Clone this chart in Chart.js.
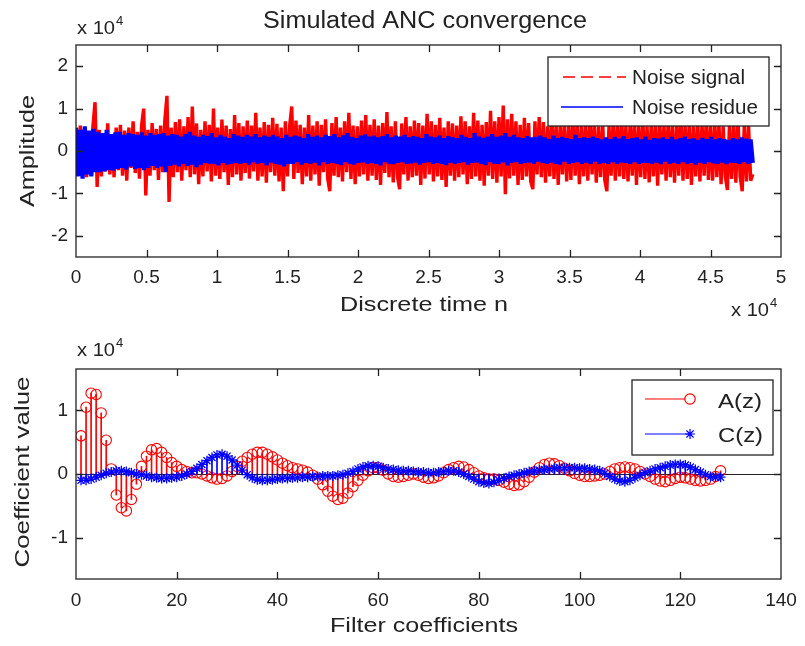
<!DOCTYPE html>
<html>
<head>
<meta charset="utf-8">
<title>Simulated ANC convergence</title>
<script src="https://cdn.jsdelivr.net/npm/chart.js@4.4.1/dist/chart.umd.min.js"></script>
<style>
  html, body { margin: 0; padding: 0; background: #fff; }
  canvas { display: block; }
</style>
</head>
<body>
<canvas id="chart-top" width="805" height="320"></canvas>
<canvas id="chart-bottom" width="805" height="326"></canvas>
<script>
// Data (amplitudes in units of 10^4, time in units of 10^4 samples)
const signalLength = 4.8;

const noiseSignal = [
  0.45, -0.55, 0.6, -0.4, 0.52, -0.62, 0.38, -0.5, 0.58, 1.15, -0.85, 0.5, -0.6, 0.42, -0.48, 0.65, -0.55, 0.35, -0.62, 0.55,
  -0.45, 0.62, -0.58, 0.48, -0.7, 0.55, -0.4, 0.7, -0.52, 0.45, -0.65, 0.6, 1.0, -1.05, 0.5, -0.58, 0.66, -0.45, 0.52, -0.68,
  0.6, -0.5, 0.72, 1.3, -1.2, 0.55, -0.62, 0.68, -0.5, 0.75, -0.7, 0.58, -0.45, 0.8, -0.62, 1.05, -0.55, 0.65, -0.78, 0.5,
  -0.6, 0.7, -0.48, 0.62, -0.72, 1.0, -0.58, 0.55, -0.66, 0.74, -0.5, 0.6, -0.8, 0.52, -0.62, 0.85, -0.55, 0.66, -0.7, 0.58,
  -0.52, 0.72, -0.65, 0.6, -0.48, 0.9, -0.7, 0.55, -0.6, 0.68, -0.75, 0.62, -0.5, 0.78, -0.58, 0.64, -0.72, 0.55, -0.95, 0.7,
  -0.6, 0.58, 1.05, -0.66, 0.72, -0.52, 0.62, -0.78, 0.55, -0.6, 0.85, -0.7, 0.6, -0.55, 0.7, -0.82, 0.62, -0.5, 0.75, -0.65,
  -0.95, 0.66, -0.58, 0.8, -0.62, 0.55, -0.72, 0.7, -0.5, 0.9, -0.66, 0.6, -0.78, 0.58, -0.6, 0.72, -0.55, 0.85, -0.7, 0.62,
  -0.58, 0.75, -0.68, 0.6, -0.8, 0.66, -0.52, 0.92, -0.62, 0.58, -0.74, 0.7, -0.6, -0.9, 0.65, -0.55, 0.8, -0.7, 0.58, -0.62,
  0.72, -0.58, 0.66, -0.8, 0.6, -0.65, 0.88, -0.55, 0.7, -0.72, 0.62, -0.6, 0.78, -0.68, 0.55, -0.85, 0.7, -0.58, 0.65, -0.7,
  0.6, -0.62, 0.82, -0.55, 0.7, -0.78, 0.58, -0.66, 0.9, -0.6, 0.72, -0.7, 0.62, -0.82, 0.68, -0.58, 0.95, -0.66, 0.7, -0.75,
  0.8, -0.6, 1.07, -1.02, 0.75, -0.65, 0.88, -0.58, 0.7, -0.8, 0.62, -0.68, 0.78, -0.6, 0.66, -0.72, -0.9, 0.7, -0.55, 0.8,
  -0.62, 0.68, -0.75, 0.58, -0.6, 0.85, -0.66, 0.62, -0.8, 0.7, -0.55, 0.66, -0.72, 0.6, -0.68, 0.9, -0.58, 0.64, -0.78, 0.7,
  -0.6, 0.62, -0.7, 0.8, -0.55, 0.66, -0.75, 0.58, -0.62, 0.72, -0.68, -0.95, 0.6, -0.58, 0.78, -0.7, 0.62, -0.6, 0.85, -0.66,
  0.6, -0.72, 0.68, -0.58, 0.75, -0.8, 0.6, -0.62, 0.82, -0.66, 0.58, -0.74, 0.7, -0.6, 0.65, -0.82, 0.72, -0.55, 0.62, -0.7,
  0.78, -0.62, 0.6, -0.75, 0.68, -0.58, 0.85, -0.7, 0.62, -0.66, 0.72, -0.8, 0.58, -0.6, 0.7, -0.72, 0.64, -0.58, 0.8, -0.68,
  0.6, -0.7, 0.72, -0.62, 0.66, -0.78, 0.58, -0.6, -0.92, 0.7, -0.66, 0.62, -0.75, 0.8, -0.6, -0.95, 0.68, -0.72, 0.6, -0.7, -0.55
];

const noiseResidue = [
  0.55, -0.6, 0.5, -0.65, 0.58, -0.55, 0.48, -0.6, 0.52, -0.5, 0.45, -0.5, 0.42, -0.48, 0.5, -0.45, 0.4, -0.46, 0.44,
  -0.42, 0.45, -0.4, 0.38, -0.44, 0.42, -0.36, 0.4, -0.42, 0.38, -0.4, 0.44, -0.45, 0.36, -0.4, 0.42, -0.35, 0.38, -0.4,
  0.4, -0.36, 0.42, -0.5, 0.36, -0.35, 0.4, -0.32, 0.38, -0.36, 0.34, -0.3, 0.4, -0.35, 0.45, -0.32, 0.36, -0.38, 0.33,
  -0.32, 0.38, -0.28, 0.35, -0.3, 0.42, -0.3, 0.32, -0.34, 0.38, -0.28, 0.34, -0.32, 0.3, -0.3, 0.4, -0.28, 0.36, -0.3, 0.33,
  -0.28, 0.38, -0.32, 0.34, -0.26, 0.4, -0.3, 0.32, -0.28, 0.36, -0.34, 0.33, -0.27, 0.38, -0.3, 0.34, -0.32, 0.3, -0.36, 0.38,
  -0.3, 0.33, -0.3, 0.36, -0.26, 0.34, -0.32, 0.3, -0.28, 0.4, -0.3, 0.33, -0.27, 0.36, -0.34, 0.32, -0.26, 0.38, -0.3,
  0.35, -0.28, 0.4, -0.3, 0.32, -0.33, 0.37, -0.26, 0.42, -0.3, 0.33, -0.32, 0.3, -0.28, 0.36, -0.27, 0.39, -0.3, 0.34,
  -0.28, 0.36, -0.3, 0.32, -0.34, 0.35, -0.26, 0.4, -0.3, 0.32, -0.31, 0.36, -0.28, 0.34, -0.26, 0.38, -0.3, 0.32, -0.29,
  0.35, -0.27, 0.33, -0.32, 0.3, -0.28, 0.4, -0.26, 0.34, -0.3, 0.32, -0.28, 0.36, -0.3, 0.3, -0.33, 0.35, -0.27, 0.32, -0.3,
  0.3, -0.28, 0.38, -0.26, 0.33, -0.32, 0.3, -0.28, 0.42, -0.27, 0.34, -0.3, 0.31, -0.33, 0.34, -0.26, 0.4, -0.3, 0.33, -0.3,
  0.36, -0.27, 0.42, -0.34, 0.33, -0.28, 0.38, -0.26, 0.32, -0.3, 0.3, -0.28, 0.35, -0.27, 0.32, -0.3, 0.33, -0.25, 0.36,
  -0.28, 0.32, -0.3, 0.28, -0.27, 0.36, -0.3, 0.3, -0.32, 0.33, -0.25, 0.3, -0.3, 0.28, -0.28, 0.38, -0.26, 0.3, -0.3, 0.32,
  -0.27, 0.3, -0.3, 0.34, -0.25, 0.3, -0.3, 0.27, -0.28, 0.32, -0.3, 0.28, -0.26, 0.33, -0.3, 0.29, -0.27, 0.35, -0.28,
  0.28, -0.3, 0.3, -0.26, 0.32, -0.3, 0.27, -0.28, 0.34, -0.28, 0.26, -0.3, 0.3, -0.27, 0.29, -0.31, 0.32, -0.25, 0.28, -0.3,
  0.33, -0.27, 0.27, -0.3, 0.3, -0.26, 0.34, -0.3, 0.28, -0.28, 0.3, -0.32, 0.26, -0.27, 0.31, -0.3, 0.28, -0.26, 0.33, -0.29,
  0.27, -0.3, 0.3, -0.27, 0.28, -0.31, 0.26, -0.27, 0.3, -0.28, 0.27, -0.3, 0.32, -0.26, 0.29, -0.3, 0.27, -0.28
];

// Filter coefficients (units of 10^4), taps 1..128
const coefA = [
  0.6, 1.05, 1.27, 1.25, 0.96, 0.53, 0.08, -0.33, -0.53, -0.58, -0.4, -0.16, 0.12, 0.28, 0.38, 0.4,
  0.34, 0.26, 0.18, 0.12, 0.07, 0.04, 0.02, 0.02, 0.0, -0.03, -0.06, -0.08, -0.07, -0.03, 0.04, 0.12,
  0.2, 0.26, 0.31, 0.34, 0.34, 0.31, 0.27, 0.22, 0.17, 0.13, 0.1, 0.08, 0.06, 0.03, -0.02, -0.08,
  -0.17, -0.27, -0.35, -0.4, -0.38, -0.3, -0.2, -0.1, -0.02, 0.05, 0.1, 0.1, 0.06, 0.0, -0.04, -0.05,
  -0.04, -0.02, 0.0, -0.02, -0.05, -0.07, -0.06, -0.03, 0.02, 0.07, 0.1, 0.12, 0.11, 0.07, 0.02, -0.03,
  -0.06, -0.08, -0.08, -0.1, -0.13, -0.16, -0.18, -0.17, -0.12, -0.05, 0.03, 0.1, 0.15, 0.17, 0.16, 0.13,
  0.09, 0.05, 0.01, -0.02, -0.04, -0.04, -0.03, -0.02, 0.0, 0.04, 0.08, 0.1, 0.11, 0.1, 0.08, 0.04,
  0.0, -0.04, -0.08, -0.11, -0.12, -0.1, -0.07, -0.05, -0.06, -0.08, -0.1, -0.11, -0.1, -0.08, -0.04, 0.05
];

const coefC = [
  -0.1, -0.1, -0.08, -0.05, -0.02, 0.01, 0.03, 0.05, 0.05, 0.04, 0.02, 0.0, -0.01, -0.03, -0.05, -0.06,
  -0.07, -0.07, -0.06, -0.05, -0.03, 0.0, 0.04, 0.09, 0.15, 0.21, 0.26, 0.3, 0.31, 0.28, 0.22, 0.14,
  0.06, -0.01, -0.06, -0.09, -0.1, -0.1, -0.09, -0.08, -0.07, -0.07, -0.06, -0.06, -0.05, -0.05, -0.04, -0.04,
  -0.03, -0.03, -0.03, -0.02, -0.01, 0.01, 0.04, 0.08, 0.11, 0.13, 0.13, 0.12, 0.1, 0.08, 0.07, 0.06,
  0.05, 0.05, 0.04, 0.03, 0.03, 0.02, 0.02, 0.03, 0.04, 0.05, 0.05, 0.03, 0.0, -0.04, -0.08, -0.12,
  -0.14, -0.15, -0.13, -0.1, -0.07, -0.04, -0.02, 0.0, 0.02, 0.04, 0.05, 0.06, 0.07, 0.08, 0.09, 0.1,
  0.1, 0.1, 0.1, 0.09, 0.09, 0.08, 0.07, 0.05, 0.01, -0.04, -0.08, -0.11, -0.12, -0.1, -0.06, -0.02,
  0.02, 0.05, 0.08, 0.1, 0.12, 0.14, 0.15, 0.15, 0.14, 0.11, 0.07, 0.03, -0.01, -0.04, -0.05, -0.05
];

// Ticks
const topXTicks = [0, 0.5, 1, 1.5, 2, 2.5, 3, 3.5, 4, 4.5, 5];
const topYTicks = [-2, -1, 0, 1, 2];
const botXTicks = [0, 20, 40, 60, 80, 100, 120, 140];
const botYTicks = [-1, 0, 1];

// Style
const FONT = '"Liberation Sans", Arial, Helvetica, sans-serif';
const INK = '#222';
const RED = '#ff0000';
const BLUE = '#0000ff';

function timePoints(values) {
  const step = signalLength / (values.length - 1);
  return values.map((v, i) => ({ x: i * step, y: v }));
}

const taps = coefA.map((_, i) => i + 1);
const tapPoints = values => values.map((v, i) => ({ x: taps[i], y: v }));

// text helper: squeezes/stretches the text to the measured width of the reference
function label(ctx, str, x, y, size, width, opt = {}) {
  ctx.save();
  ctx.font = size + "px " + FONT;
  ctx.fillStyle = INK;
  ctx.textBaseline = "middle";
  ctx.textAlign = opt.align || "center";
  ctx.translate(x, y);
  if (opt.rotate) ctx.rotate(-Math.PI / 2);
  if (width) ctx.scale(width / ctx.measureText(str).width, 1);
  ctx.fillText(str, 0, 0);
  ctx.restore();
}

function exponent(ctx, x, y) {
  label(ctx, "x 10", x, y, 18, 38, { align: "left" });
  label(ctx, "4", x + 39, y - 8, 13, null, { align: "left" });
}

function star(ctx, x, y, r) {
  const d = r * Math.SQRT1_2;
  ctx.beginPath();
  ctx.moveTo(x - r, y); ctx.lineTo(x + r, y);
  ctx.moveTo(x, y - r); ctx.lineTo(x, y + r);
  ctx.moveTo(x - d, y - d); ctx.lineTo(x + d, y + d);
  ctx.moveTo(x - d, y + d); ctx.lineTo(x + d, y - d);
  ctx.stroke();
}

function legendBox(ctx, x1, y1, x2, y2) {
  ctx.save();
  ctx.fillStyle = "#fff";
  ctx.fillRect(x1, y1, x2 - x1, y2 - y1);
  ctx.strokeStyle = INK;
  ctx.lineWidth = 1.3;
  ctx.strokeRect(x1, y1, x2 - x1, y2 - y1);
  ctx.restore();
}

// frame, inside ticks, baseline, extra texts
const axesDecor = {
  id: "axesDecor",
  beforeDatasetsDraw(chart, args, opts) {
    if (!opts.baseline) return;
    const { left, right } = chart.chartArea;
    const y = Math.round(chart.scales.y.getPixelForValue(0)) + 0.5;
    const ctx = chart.ctx;
    ctx.save();
    ctx.strokeStyle = INK;
    ctx.lineWidth = 1.2;
    ctx.beginPath();
    ctx.moveTo(left, y); ctx.lineTo(right, y);
    ctx.stroke();
    ctx.restore();
  },
  afterDatasetsDraw(chart, args, opts) {
    const ctx = chart.ctx;
    const { left, right, top, bottom } = chart.chartArea;
    const len = 7;
    ctx.save();
    ctx.strokeStyle = INK;
    ctx.lineWidth = 1.3;
    ctx.beginPath();
    chart.scales.x.ticks.forEach(t => {
      const px = Math.round(chart.scales.x.getPixelForValue(t.value)) + 0.5;
      if (px < left + 2 || px > right - 2) return;
      ctx.moveTo(px, bottom); ctx.lineTo(px, bottom - len);
      ctx.moveTo(px, top); ctx.lineTo(px, top + len);
    });
    chart.scales.y.ticks.forEach(t => {
      const py = Math.round(chart.scales.y.getPixelForValue(t.value)) + 0.5;
      if (py < top + 2 || py > bottom - 2) return;
      ctx.moveTo(left, py); ctx.lineTo(left + len, py);
      ctx.moveTo(right, py); ctx.lineTo(right - len, py);
    });
    ctx.stroke();
    ctx.strokeRect(left, top, right - left, bottom - top);
    ctx.restore();
    if (opts.draw) opts.draw(ctx, chart);
  }
};

function scaleOpts(min, max, ticks, size, pad, isX) {
  return {
    type: "linear",
    min: min,
    max: max,
    offset: false,
    grid: { display: false },
    border: { display: false },
    afterBuildTicks: s => { s.ticks = ticks.map(v => ({ value: v })); },
    afterFit: s => { if (isX) s.height = size; else s.width = size; },
    ticks: {
      autoSkip: false,
      maxRotation: 0,
      padding: pad,
      color: INK,
      font: { family: FONT, size: 19 },
      callback: v => String(v)
    }
  };
}

// Top chart
const topChart = new Chart(document.getElementById("chart-top"), {
  type: "line",
  data: {
    datasets: [
      {
        label: "Noise residue",
        data: timePoints(noiseResidue),
        borderColor: BLUE,
        borderWidth: 4.2,
        borderJoinStyle: "bevel",
        pointRadius: 0,
        tension: 0,
        order: 1
      },
      {
        label: "Noise signal",
        data: timePoints(noiseSignal),
        borderColor: RED,
        borderWidth: 3.4,
        borderJoinStyle: "bevel",
        pointRadius: 0,
        tension: 0,
        order: 2
      }
    ]
  },
  options: {
    responsive: false,
    animation: false,
    layout: { padding: { left: 0, right: 24, top: 45, bottom: 0 } },
    scales: {
      x: scaleOpts(0, 5, topXTicks, 63, 1, true),
      y: scaleOpts(-2.5, 2.5, topYTicks, 76, 0, false)
    },
    plugins: {
      legend: { display: false },
      tooltip: { enabled: false },
      axesDecor: {
        draw(ctx) {
          label(ctx, "Simulated ANC convergence", 425, 22, 23, 324);
          exponent(ctx, 77, 29);
          label(ctx, "Discrete time n", 424, 305, 21, 168);
          exponent(ctx, 731, 311);
          label(ctx, "Amplitude", 28, 151, 21, 112, { rotate: true });

          legendBox(ctx, 548, 57, 769, 126);
          ctx.save();
          ctx.lineWidth = 1.4;
          ctx.strokeStyle = RED;
          ctx.setLineDash([12, 6]);
          ctx.beginPath(); ctx.moveTo(563, 77); ctx.lineTo(626, 77); ctx.stroke();
          ctx.setLineDash([]);
          ctx.strokeStyle = BLUE;
          ctx.beginPath(); ctx.moveTo(561, 107); ctx.lineTo(623, 107); ctx.stroke();
          ctx.restore();
          label(ctx, "Noise signal", 632, 78, 20, 113, { align: "left" });
          label(ctx, "Noise residue", 632, 108, 20, 126, { align: "left" });
        }
      }
    }
  },
  plugins: [axesDecor]
});

// Bottom chart (stem plot)
const botChart = new Chart(document.getElementById("chart-bottom"), {
  type: "bar",
  data: {
    datasets: [
      {
        type: "line",
        label: "C(z)",
        data: tapPoints(coefC),
        showLine: false,
        pointStyle: "star",
        pointRadius: 5,
        pointBorderWidth: 1.3,
        borderColor: BLUE,
        backgroundColor: BLUE,
        order: 1
      },
      {
        type: "bar",
        label: "C stems",
        data: tapPoints(coefC),
        backgroundColor: BLUE,
        barThickness: 1,
        grouped: false,
        order: 2
      },
      {
        type: "line",
        label: "A(z)",
        data: tapPoints(coefA),
        showLine: false,
        pointStyle: "circle",
        pointRadius: 5.2,
        pointBorderWidth: 1.1,
        borderColor: RED,
        backgroundColor: "rgba(0,0,0,0)",
        order: 3
      },
      {
        type: "bar",
        label: "A stems",
        data: tapPoints(coefA),
        backgroundColor: RED,
        barThickness: 1,
        grouped: false,
        order: 4
      }
    ]
  },
  options: {
    responsive: false,
    animation: false,
    layout: { padding: { left: 0, right: 24, top: 49, bottom: 0 } },
    scales: {
      x: scaleOpts(0, 140, botXTicks, 67, 2, true),
      y: scaleOpts(-1.65, 1.65, botYTicks, 76, 0, false)
    },
    plugins: {
      legend: { display: false },
      tooltip: { enabled: false },
      axesDecor: {
        baseline: true,
        draw(ctx) {
          exponent(ctx, 77, 31);
          label(ctx, "Coefficient value", 23, 152, 21, 191, { rotate: true });
          label(ctx, "Filter coefficients", 424, 306, 21, 188);

          legendBox(ctx, 632, 60, 773, 135);
          ctx.save();
          ctx.lineWidth = 1.2;
          ctx.strokeStyle = RED;
          ctx.beginPath(); ctx.moveTo(645, 79); ctx.lineTo(685, 79); ctx.stroke();
          ctx.beginPath(); ctx.arc(690, 79, 5.2, 0, Math.PI * 2); ctx.stroke();
          ctx.strokeStyle = BLUE;
          ctx.beginPath(); ctx.moveTo(645, 114); ctx.lineTo(690, 114); ctx.stroke();
          star(ctx, 690, 114, 5);
          ctx.restore();
          label(ctx, "A(z)", 718, 82, 20, 44, { align: "left" });
          label(ctx, "C(z)", 718, 116, 20, 45, { align: "left" });
        }
      }
    }
  },
  plugins: [axesDecor]
});
</script>
</body>
</html>
